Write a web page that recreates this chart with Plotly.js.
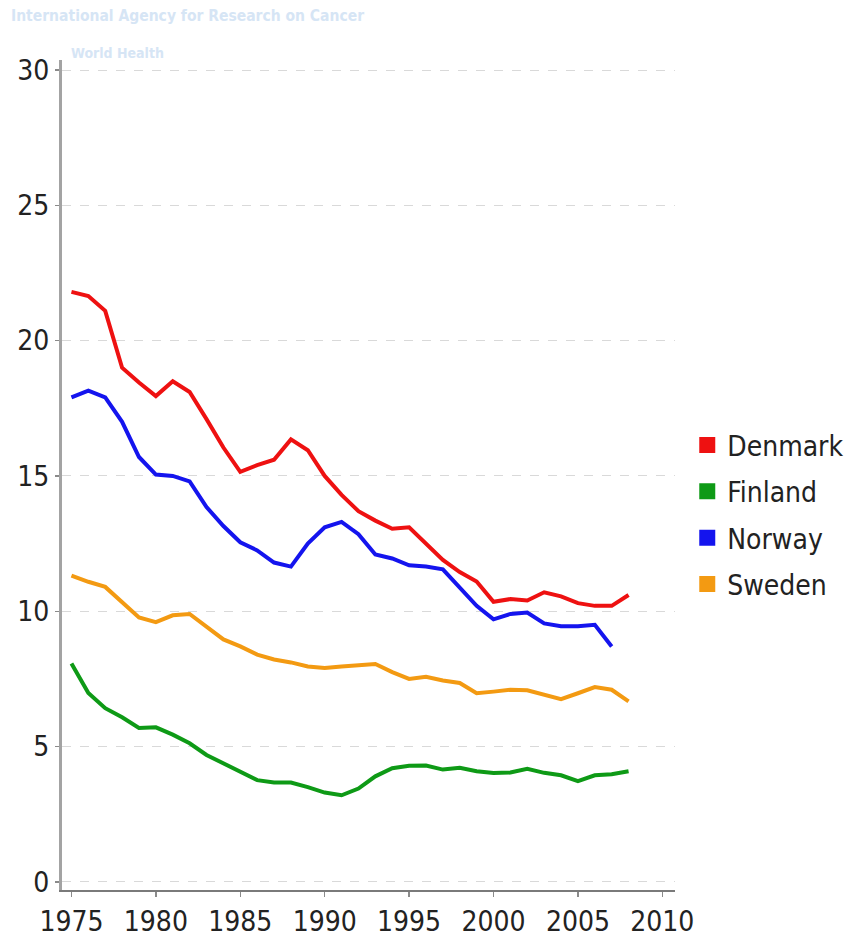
<!DOCTYPE html>
<html>
<head>
<meta charset="utf-8">
<script src="https://cdn.plot.ly/plotly-3.0.1.min.js"></script>
<style>
html,body{margin:0;padding:0;background:#fff;}
#chart{width:854px;height:937px;}
</style>
</head>
<body>
<div id="chart"></div>
<script>
var years = [1975,1976,1977,1978,1979,1980,1981,1982,1983,1984,1985,1986,1987,1988,1989,1990,1991,1992,1993,1994,1995,1996,1997,1998,1999,2000,2001,2002,2003,2004,2005,2006,2007,2008];
var denmark = [21.8,21.65,21.1,19.0,18.45,17.95,18.5,18.1,17.1,16.05,15.15,15.4,15.6,16.35,15.95,15.0,14.3,13.7,13.35,13.05,13.1,12.5,11.9,11.45,11.1,10.35,10.45,10.4,10.7,10.55,10.3,10.2,10.2,10.6];
var finland = [8.07,6.98,6.42,6.08,5.69,5.71,5.44,5.12,4.69,4.37,4.04,3.76,3.67,3.67,3.5,3.3,3.2,3.45,3.9,4.2,4.29,4.3,4.15,4.22,4.09,4.02,4.04,4.18,4.03,3.94,3.72,3.94,3.98,4.09];
var norwayYears = years.slice(0, 33);
var norway = [17.9,18.15,17.9,17.0,15.7,15.05,15.0,14.8,13.85,13.15,12.55,12.25,11.8,11.65,12.5,13.1,13.3,12.85,12.1,11.95,11.7,11.65,11.55,10.85,10.2,9.7,9.9,9.95,9.55,9.45,9.45,9.5,8.7];
var sweden = [11.32,11.09,10.9,10.32,9.77,9.6,9.85,9.9,9.44,8.96,8.7,8.4,8.22,8.11,7.96,7.9,7.96,8.0,8.05,7.75,7.5,7.58,7.44,7.35,6.97,7.03,7.1,7.08,6.91,6.75,6.97,7.2,7.1,6.67];

var names = ["Denmark","Finland","Norway","Sweden"];
var colors = ["#ee1111","#0e9a16","#1414ee","#f39a12"];
var xs = [years, years, norwayYears, years];
var ys = [denmark, finland, norway, sweden];
var yTicks = [0,5,10,15,20,25,30];
var xTicks = [1975,1980,1985,1990,1995,2000,2005,2010];

var FONT = '"DejaVu Sans Condensed", "DejaVu Sans", Tahoma, sans-serif';
var traces = [];
for (var i = 0; i < names.length; i++) {
  traces.push({
    x: xs[i], y: ys[i], type: 'scatter', mode: 'lines',
    line: {color: colors[i], width: 4, shape: 'linear'},
    showlegend: false, hoverinfo: 'skip'
  });
}
for (var j = 0; j < names.length; j++) {
  traces.push({
    x: [null], y: [null], type: 'scatter', mode: 'markers',
    name: names[j], legendgroup: names[j],
    marker: {symbol: 'square', size: 19, color: colors[j]}
  });
}

var layout = {
  width: 854, height: 937,
  margin: {l: 62, r: 179, t: 60, b: 47, autoexpand: false},
  paper_bgcolor: '#ffffff', plot_bgcolor: '#ffffff',
  font: {family: FONT, size: 28, color: '#222222'},
  showlegend: true,
  legend: {
    x: 1.02, y: 0.566, xanchor: 'left', yanchor: 'top',
    font: {family: FONT, size: 28, color: '#222222'},
    tracegroupgap: 7, traceorder: 'grouped',
    bgcolor: 'rgba(0,0,0,0)', itemwidth: 30
  },
  xaxis: {
    range: [1974.44, 2010.75], tickvals: xTicks, ticktext: xTicks.map(String),
    showgrid: false, zeroline: false,
    showline: true, linecolor: '#7a7a7a', linewidth: 2,
    ticks: 'outside', ticklen: 5, tickwidth: 1.5, tickcolor: '#8a8a8a',
    tickfont: {family: FONT, size: 28, color: '#222222'}
  },
  yaxis: {
    range: [-0.3, 30.37], tickvals: yTicks, ticktext: yTicks.map(String),
    showgrid: true, gridcolor: '#d9d9d9', griddash: 'dash', gridwidth: 1,
    zeroline: false,
    showline: true, linecolor: '#a3a3a3', linewidth: 3,
    ticks: 'outside', ticklen: 4, tickwidth: 1.5, tickcolor: '#8a8a8a',
    tickfont: {family: FONT, size: 28, color: '#222222'}
  },
  annotations: [
    {xref: 'paper', yref: 'paper', x: -0.087, y: 1.0 + 44/830, xanchor: 'left', yanchor: 'middle',
     text: '<b>International Agency for Research on Cancer</b>', showarrow: false,
     font: {family: FONT, size: 15.5, color: '#d6e5f5'}},
    {xref: 'paper', yref: 'paper', x: 0.012, y: 1.0 + 7/830, xanchor: 'left', yanchor: 'middle',
     text: '<b>World Health</b>', showarrow: false,
     font: {family: FONT, size: 14, color: '#d6e5f5'}}
  ]
};

Plotly.newPlot('chart', traces, layout, {displayModeBar: false, staticPlot: true});
</script>
</body>
</html>
